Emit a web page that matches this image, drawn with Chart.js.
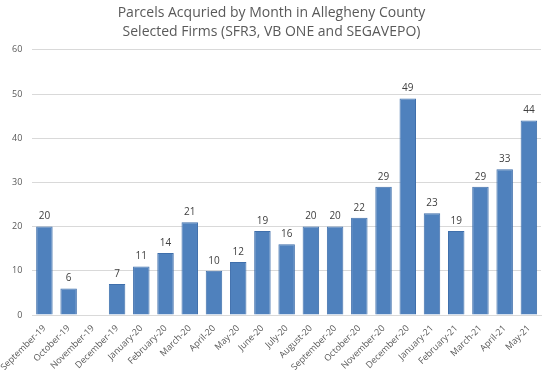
<!DOCTYPE html>
<html lang="en">
<head>
    <meta charset="UTF-8">
    <title>Parcels Acquired by Month</title>
    <style>
        html, body { margin: 0; padding: 0; background: #fff; }
        .chart { width: 551px; height: 370px; }
    </style>
</head>
<body>
    <div class="chart">
        <canvas id="parcelsChart"></canvas>
    </div>

    <script src="https://cdn.jsdelivr.net/npm/chart.js"></script>
    <script>
        const months = ['September-19', 'October-19', 'November-19', 'December-19', 'January-20', 'February-20',
            'March-20', 'April-20', 'May-20', 'June-20', 'July-20', 'August-20', 'September-20', 'October-20',
            'November-20', 'December-20', 'January-21', 'February-21', 'March-21', 'April-21', 'May-21'];
        const parcels = [20, 6, null, 7, 11, 14, 21, 10, 12, 19, 16, 20, 20, 22, 29, 49, 23, 19, 29, 33, 44];
        const titleLines = ['Parcels Acquried by Month in Allegheny County', 'Selected Firms (SFR3, VB ONE and SEGAVEPO)'];

        const fontFamily = "'Open Sans', 'Liberation Sans', sans-serif";
        const textGrey = '#595959';

        // draws the value above each bar
        const barLabels = {
            id: 'barLabels',
            afterDatasetsDraw(chart) {
                const ctx = chart.ctx;
                const meta = chart.getDatasetMeta(0);
                ctx.save();
                ctx.font = '10px ' + fontFamily;
                ctx.fillStyle = '#404040';
                ctx.textAlign = 'center';
                ctx.textBaseline = 'bottom';
                meta.data.forEach((bar, i) => {
                    const v = chart.data.datasets[0].data[i];
                    if (v === null) return;
                    ctx.fillText(v, bar.x, bar.y - 5);
                });
                ctx.restore();
            }
        };

        new Chart(document.getElementById('parcelsChart'), {
            type: 'bar',
            data: {
                labels: months,
                datasets: [{
                    data: parcels,
                    backgroundColor: '#4f81bd',
                    borderColor: '#3f6fab',
                    borderWidth: 1,
                    categoryPercentage: 1,
                    barPercentage: 0.68
                }]
            },
            options: {
                responsive: true,
                maintainAspectRatio: false,
                animation: false,
                layout: { padding: { left: 2, right: 10, top: 2, bottom: 0 } },
                plugins: {
                    legend: { display: false },
                    tooltip: { enabled: false },
                    title: {
                        display: true,
                        text: titleLines,
                        color: textGrey,
                        font: { family: fontFamily, size: 14, weight: 'normal', lineHeight: 1.35 },
                        padding: { top: 2, bottom: 8 }
                    }
                },
                scales: {
                    x: {
                        grid: { display: false },
                        border: { color: '#d9d9d9' },
                        ticks: {
                            color: textGrey,
                            font: { family: fontFamily, size: 9 },
                            maxRotation: 45,
                            minRotation: 45,
                            autoSkip: false,
                            padding: 0
                        },
                        afterFit(scale) { scale.height = 55; }
                    },
                    y: {
                        min: 0,
                        max: 60,
                        ticks: {
                            stepSize: 10,
                            color: textGrey,
                            font: { family: fontFamily, size: 9 },
                            padding: 10
                        },
                        grid: { color: '#d9d9d9', drawTicks: false },
                        border: { display: false }
                    }
                }
            },
            plugins: [barLabels]
        });
    </script>
</body>
</html>
